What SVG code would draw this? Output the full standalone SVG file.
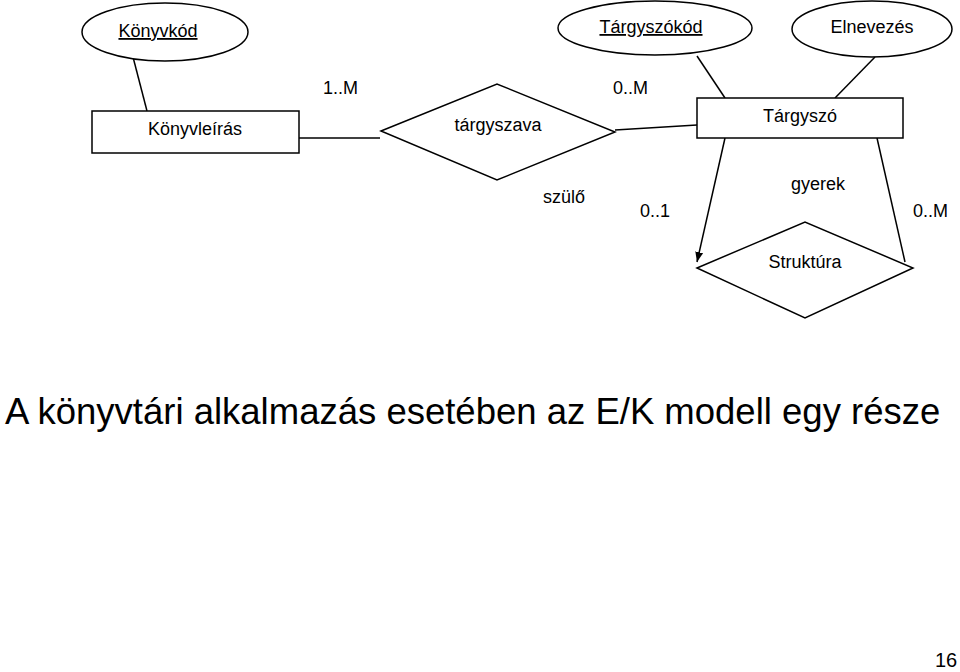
<svg xmlns="http://www.w3.org/2000/svg" width="960" height="672" viewBox="0 0 960 672">
<style>
.s{fill:#fff;stroke:#000;stroke-width:1.5}
.c{fill:none;stroke:#000;stroke-width:1.5}
text{font-family:"Liberation Sans",Arial,sans-serif;fill:#000}
.t{font-size:18px;text-anchor:middle}
.l{font-size:18px}
</style>
<defs>
<marker id="ah" viewBox="0 0 10 10" refX="10" refY="5" markerWidth="10" markerHeight="10" markerUnits="userSpaceOnUse" orient="auto">
<path d="M0,1 L10,5 L0,9 z" fill="#000"/>
</marker>
</defs>
<rect width="960" height="672" fill="#fff"/>
<g id="connectors">
<line class="c" x1="133" y1="57" x2="147" y2="111"/>
<line class="c" x1="299" y1="138" x2="380" y2="138"/>
<line class="c" x1="615" y1="130" x2="697" y2="125"/>
<line class="c" x1="697" y1="56" x2="725" y2="98"/>
<line class="c" x1="875" y1="57" x2="835" y2="98"/>
<line class="c" x1="725" y1="138" x2="697" y2="262" marker-end="url(#ah)"/>
<line class="c" x1="877" y1="138" x2="905" y2="262"/>
</g>
<g id="konyvkod">
<ellipse class="s" cx="165" cy="32" rx="83" ry="29"/>
<text class="t" x="158" y="37" text-decoration="underline">Könyvkód</text>
</g>
<g id="konyvleiras">
<rect class="s" x="92" y="111" width="207" height="42"/>
<text class="t" x="195" y="135">Könyvleírás</text>
</g>
<g id="targyszava">
<polygon class="s" points="381,131 497,84 615,132 497,180"/>
<text class="t" x="498" y="131">tárgyszava</text>
</g>
<g id="targyszokod">
<ellipse class="s" cx="655" cy="28" rx="97" ry="27"/>
<text class="t" x="651" y="33" text-decoration="underline">Tárgyszókód</text>
</g>
<g id="elnevezes">
<ellipse class="s" cx="872" cy="29" rx="80" ry="28"/>
<text class="t" x="872" y="33">Elnevezés</text>
</g>
<g id="targyszo">
<rect class="s" x="697" y="98" width="206" height="40"/>
<text class="t" x="800" y="122">Tárgyszó</text>
</g>
<g id="struktura">
<polygon class="s" points="697,268 805,222 913,268 805,318"/>
<text class="t" x="805" y="268">Struktúra</text>
</g>
<g id="labels">
<text class="l" x="323" y="94">1..M</text>
<text class="l" x="613" y="94">0..M</text>
<text class="l" x="543" y="203">szülő</text>
<text class="l" x="640" y="217">0..1</text>
<text class="t" x="818" y="190">gyerek</text>
<text class="l" x="913" y="217">0..M</text>
</g>
<text x="5" y="424" font-size="36.5">A könyvtári alkalmazás esetében az E/K modell egy része</text>
<text x="935" y="667" font-size="20">16</text>
</svg>
